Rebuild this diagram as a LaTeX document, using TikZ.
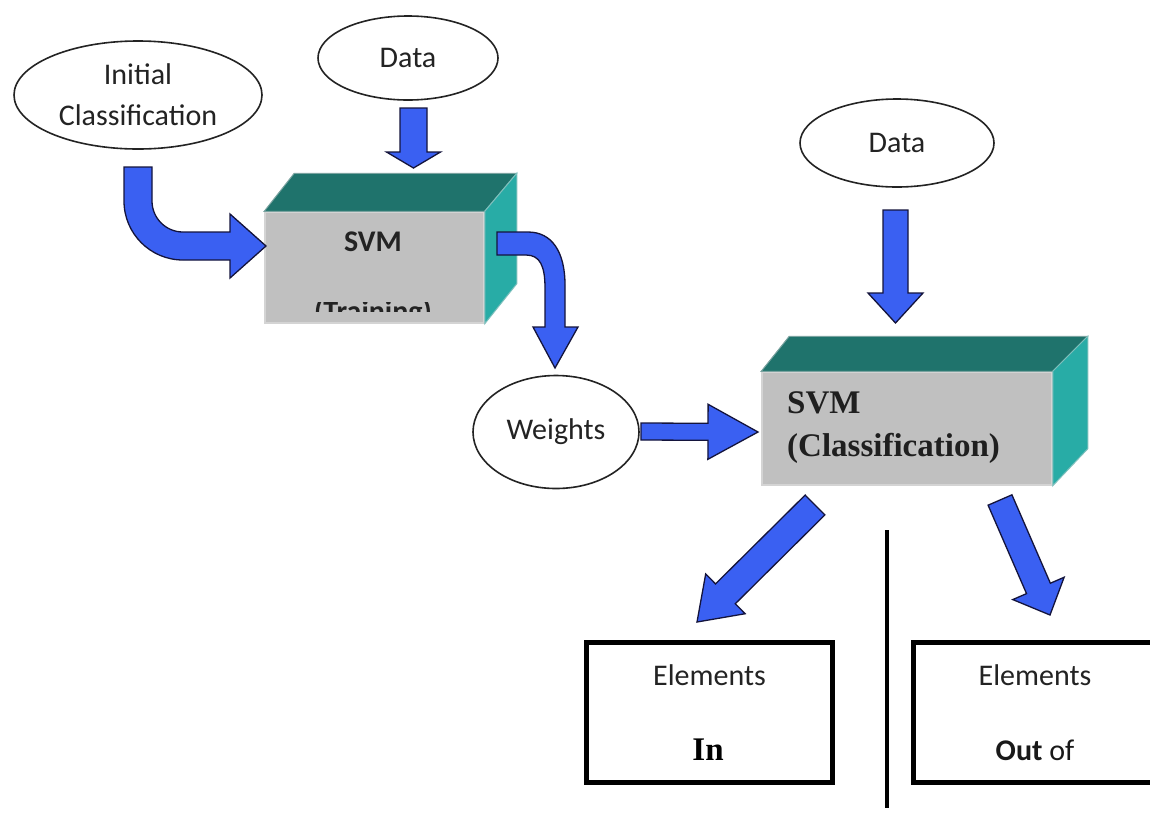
\documentclass[tikz,border=0pt]{standalone}
\usepackage{fontspec}
\setmainfont{Carlito}
\newfontfamily\timesfam{Liberation Serif}
\usetikzlibrary{shapes.geometric,calc}

\definecolor{arrowblue}{RGB}{58,96,242}
\definecolor{arrowline}{RGB}{20,20,60}
\definecolor{facegray}{RGB}{192,192,192}
\definecolor{faceedge}{RGB}{212,212,212}
\definecolor{topteal}{RGB}{31,115,108}
\definecolor{sideteal}{RGB}{40,172,166}
\definecolor{inkgray}{RGB}{35,35,35}

\tikzset{
  blockarrow/.style={fill=arrowblue, draw=arrowline, line width=1.3pt, line join=miter},
  oval/.style={ellipse, draw=inkgray, line width=1.6pt, fill=white, inner sep=0pt,
    text=inkgray, font=\fontsize{30}{41}\selectfont, align=center},
  frontface/.style={rectangle, fill=facegray, draw=faceedge, line width=1.5pt, inner sep=0pt},
  topface/.style={fill=topteal, draw=faceedge!50!topteal, line width=1pt},
  sideface/.style={fill=sideteal, draw=faceedge!50!sideteal, line width=1pt},
  outbox/.style={rectangle, draw=black, line width=5pt, inner sep=0pt},
  lbl/.style={text=inkgray, font=\fontsize{30}{36}\selectfont, inner sep=0pt},
  svmsans/.style={text=inkgray, font=\bfseries\fontsize{30}{36}\selectfont, inner sep=0pt},
  svmserif/.style={text=black!88, font=\timesfam\bfseries\fontsize{33}{40}\selectfont, inner sep=0pt},
  divider/.style={draw=black, line width=4.5pt},
}

% straight block arrow: start, end, half shaft, half head, head length
\newcommand{\blockarr}[5]{%
  \coordinate (ba-h) at ($(#2)!#5!(#1)$);
  \filldraw[blockarrow]
    ($(#1)!#3!90:(#2)$) -- ($(ba-h)!#3!-90:(#1)$) -- ($(ba-h)!#4!-90:(#1)$)
    -- (#2) -- ($(ba-h)!#4!90:(#1)$) -- ($(ba-h)!#3!90:(#1)$)
    -- ($(#1)!#3!-90:(#2)$) -- cycle;}

\begin{document}
\begin{tikzpicture}[x=1pt,y=-1pt]
\useasboundingbox[fill=white] (0,0) rectangle (1150,812);

% ellipses
\node[oval, minimum width=248pt, minimum height=108pt] (init) at (138,95) {Initial\\Classification};
\node[oval, minimum width=180pt, minimum height=84pt] (dataA) at (408,58) {Data};
\node[oval, minimum width=194pt, minimum height=88pt] (dataB) at (897,143) {Data};
\node[oval, minimum width=166pt, minimum height=113pt] (weights) at (556,432) {Weights};

% SVM training box
\node[frontface, minimum width=219pt, minimum height=111pt] (svmT) at (374.5,267.5) {};
\filldraw[topface] (svmT.north west) -- ++(30,-38) -- ($(svmT.north east)+(32,-38)$) -- (svmT.north east) -- cycle;
\filldraw[sideface] (svmT.north east) -- ++(32,-38) -- ($(svmT.south east)+(32,-40)$) -- (svmT.south east) -- cycle;
\node[svmsans] (svmTa) at (373,242) {SVM};
\begin{scope}
  \clip (270,302) rectangle (480,311);
  \node[svmsans, anchor=base] (svmTb) at (373,321) {(Training)};
\end{scope}

% SVM classification box
\node[frontface, minimum width=290pt, minimum height=113pt] (svmC) at (907,428.5) {};
\filldraw[topface] (svmC.north west) -- ++(28,-35) -- ($(svmC.north east)+(35,-35)$) -- (svmC.north east) -- cycle;
\filldraw[sideface] (svmC.north east) -- ++(35,-35) -- ($(svmC.south east)+(35,-37)$) -- (svmC.south east) -- cycle;
\node[svmserif, anchor=base west] (svmCa) at (787,413) {SVM};
\node[svmserif, anchor=base west] (svmCb) at (787,456) {(Classification)};

% output boxes
\node[outbox, minimum width=246pt, minimum height=140pt] (inbox) at (709.5,712.5) {};
\node[outbox, minimum width=243pt, minimum height=140pt] (outbox) at (1035,712.5) {};
\node[lbl] (inA) at (709.5,675) {Elements};
\node[svmserif, text=black] (inB) at (708,750) {In};
\node[lbl] (outA) at (1035,675) {Elements};
\node[lbl, text=black!90] (outB) at (1035,750) {\textbf{Out} of};

% divider
\coordinate (dv1) at (887,530);
\coordinate (dv2) at (887,808);
\draw[divider] (dv1) -- (dv2);

% curved arrow: initial classification -> SVM training
\filldraw[blockarrow] (124,167) -- (124,201) arc[start angle=180, end angle=90, radius=59]
  -- (230,260) -- (230,278) -- (266,246) -- (230,214) -- (230,232) -- (183,232)
  arc[start angle=90, end angle=180, radius=31] -- (152,167) -- cycle;

% curved arrow: SVM training -> weights
\filldraw[blockarrow] (497,232) -- (528,232) .. controls (552,232) and (565,252) .. (565,285)
  -- (565,327) -- (578,327) -- (555,368) -- (533,327) -- (545,327) -- (545,288)
  .. controls (545,266) and (540,255) .. (526,255) -- (497,255) -- cycle;

% straight arrows
\coordinate (a3s) at (413.5,108); \coordinate (a3e) at (413.5,168);
\blockarr{a3s}{a3e}{13.5pt}{27pt}{16pt}
\coordinate (a4s) at (895.5,210); \coordinate (a4e) at (895.5,323);
\blockarr{a4s}{a4e}{12.5pt}{27.5pt}{30pt}
\coordinate (a5s) at (641,431.5); \coordinate (a5e) at (758,432);
\blockarr{a5s}{a5e}{8.5pt}{27.5pt}{50pt}
\coordinate (a6s) at (815,505); \coordinate (a6e) at (697,622);
\blockarr{a6s}{a6e}{14pt}{28pt}{40pt}
\coordinate (a7s) at (1000,500); \coordinate (a7e) at (1050,615);
\blockarr{a7s}{a7e}{13pt}{28pt}{29pt}
\end{tikzpicture}
\end{document}
